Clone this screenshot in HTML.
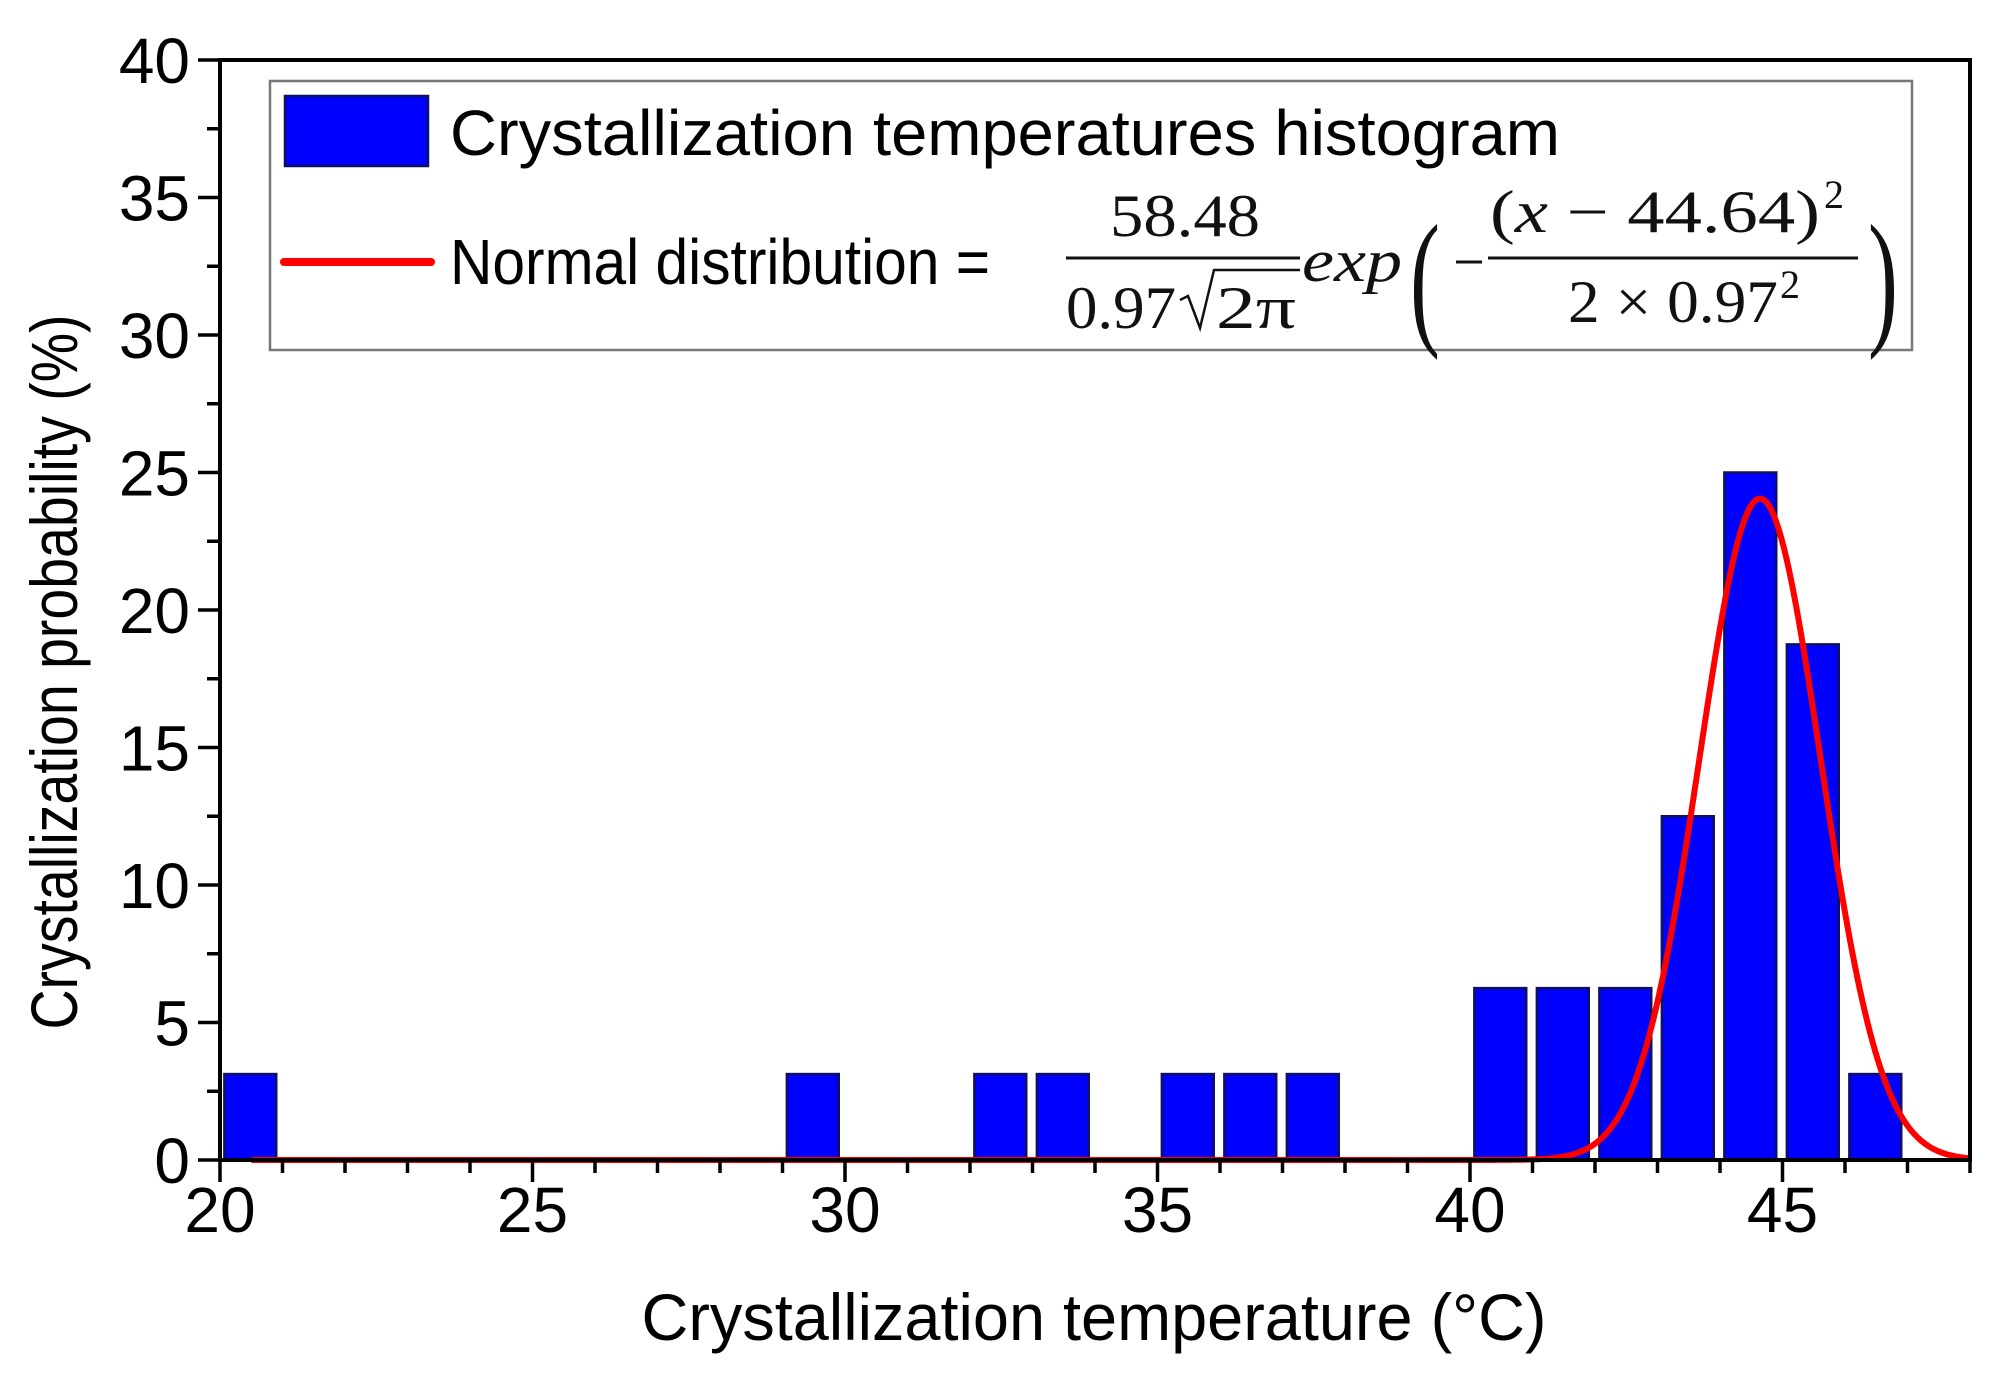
<!DOCTYPE html>
<html><head><meta charset="utf-8"><style>
html,body{margin:0;padding:0;background:#fff;}
svg{display:block;font-family:"Liberation Sans",Arial,sans-serif;}
.m{font-family:"Liberation Serif","DejaVu Serif",serif;}
</style></head><body>
<svg id="s" width="2002" height="1373" viewBox="0 0 2002 1373" xmlns="http://www.w3.org/2000/svg">
<rect width="2002" height="1373" fill="#fff"/>
<g id="bars" fill="#0000ff" stroke="#101060" stroke-width="2.5"></g>
<path id="curve" fill="none" stroke="#ff0000" stroke-width="6" stroke-linejoin="round"/>
<g id="ticks" stroke="#000" stroke-width="3.5"></g>
<rect x="220" y="60" width="1750" height="1100" fill="none" stroke="#000" stroke-width="4"/>
<g id="labels" font-size="64" fill="#000"></g>
<text x="1094" y="1340" font-size="66" text-anchor="middle" textLength="905" lengthAdjust="spacingAndGlyphs">Crystallization temperature (°C)</text>
<text transform="translate(77,672) rotate(-90)" font-size="66" text-anchor="middle" textLength="715" lengthAdjust="spacingAndGlyphs">Crystallization probability (%)</text>
<!-- legend -->
<rect x="270" y="81" width="1642" height="269" fill="#fff" stroke="#777" stroke-width="2.5"/>
<rect x="285" y="96" width="143" height="70" fill="#0000ff" stroke="#101060" stroke-width="2.5"/>
<text x="450" y="155" font-size="64" textLength="1110" lengthAdjust="spacingAndGlyphs">Crystallization temperatures histogram</text>
<line x1="284" y1="262" x2="431" y2="262" stroke="#ff0000" stroke-width="8" stroke-linecap="round"/>
<text x="450" y="284" font-size="64" textLength="540" lengthAdjust="spacingAndGlyphs">Normal distribution =</text>
<g class="m" font-size="60" fill="#111">
<text x="1185" y="236" text-anchor="middle" textLength="150" lengthAdjust="spacingAndGlyphs">58.48</text>
<line x1="1066" y1="258" x2="1300" y2="258" stroke="#111" stroke-width="3"/>
<text x="1066" y="328" textLength="110" lengthAdjust="spacingAndGlyphs">0.97</text>
<path d="M1180 300 L1188 296 L1200 328 L1214 270 L1300 270" fill="none" stroke="#111" stroke-width="2.5"/>
<text x="1216" y="328" textLength="80" lengthAdjust="spacingAndGlyphs">2π</text>
<text x="1302" y="281" font-style="italic" textLength="100" lengthAdjust="spacingAndGlyphs">exp</text>
<text x="1410" y="328" font-size="150" transform="translate(1410,0) scale(0.6,1) translate(-1410,0)">(</text>
<line x1="1456" y1="262" x2="1482" y2="262" stroke="#111" stroke-width="3"/>
<text x="1490" y="232" textLength="330" lengthAdjust="spacingAndGlyphs">(<tspan font-style="italic">x</tspan> − 44.64)</text>
<text x="1824" y="208" font-size="40">2</text>
<line x1="1488" y1="258" x2="1858" y2="258" stroke="#111" stroke-width="3"/>
<text x="1568" y="322" textLength="210" lengthAdjust="spacingAndGlyphs">2 × 0.97</text>
<text x="1780" y="298" font-size="40">2</text>
<text x="1868" y="328" font-size="150" transform="translate(1868,0) scale(0.6,1) translate(-1868,0)">)</text>
</g>
</svg>
<script>
var X=function(v){return 220+(v-20)*62.5;}, Y=function(v){return 1160-v*27.5;};
var ns="http://www.w3.org/2000/svg";
var bars=[[20,3.125],[29,3.125],[32,3.125],[33,3.125],[35,3.125],[36,3.125],[37,3.125],[40,6.25],[41,6.25],[42,6.25],[43,12.5],[44,25],[45,18.75],[46,3.125]];
var g=document.getElementById('bars');
bars.forEach(function(b){var r=document.createElementNS(ns,'rect');var x0=X(b[0]+0.07),x1=X(b[0]+0.9);
r.setAttribute('x',x0);r.setAttribute('y',Y(b[1]));r.setAttribute('width',x1-x0);r.setAttribute('height',Y(0)-Y(b[1]));g.appendChild(r);});
var d='',A=58.48/(0.97*Math.sqrt(2*Math.PI));
for(var x=20.5;x<=48.0001;x+=0.02){var y=A*Math.exp(-Math.pow(x-44.64,2)/(2*0.97*0.97));d+=(d?'L':'M')+X(x).toFixed(1)+' '+Y(y).toFixed(1);}
document.getElementById('curve').setAttribute('d',d);
var t=document.getElementById('ticks'),L=document.getElementById('labels');
function ln(a,b,c,e){var l=document.createElementNS(ns,'line');l.setAttribute('x1',a);l.setAttribute('y1',b);l.setAttribute('x2',c);l.setAttribute('y2',e);t.appendChild(l);}
function tx(s,x,y,anc){var e=document.createElementNS(ns,'text');e.setAttribute('x',x);e.setAttribute('y',y);e.setAttribute('text-anchor',anc);e.textContent=s;L.appendChild(e);}
for(var v=20;v<=48;v++){var maj=(v%5==0);ln(X(v),1160,X(v),1160+(maj?22:13));if(maj)tx(v,X(v),1232,'middle');}
for(var k=0;k<=16;k++){var v=k*2.5,maj=(k%2==0);ln(220,Y(v),220-(maj?22:13),Y(v));if(maj)tx(v,190,Y(v)+23,'end');}
</script>
</body></html>
